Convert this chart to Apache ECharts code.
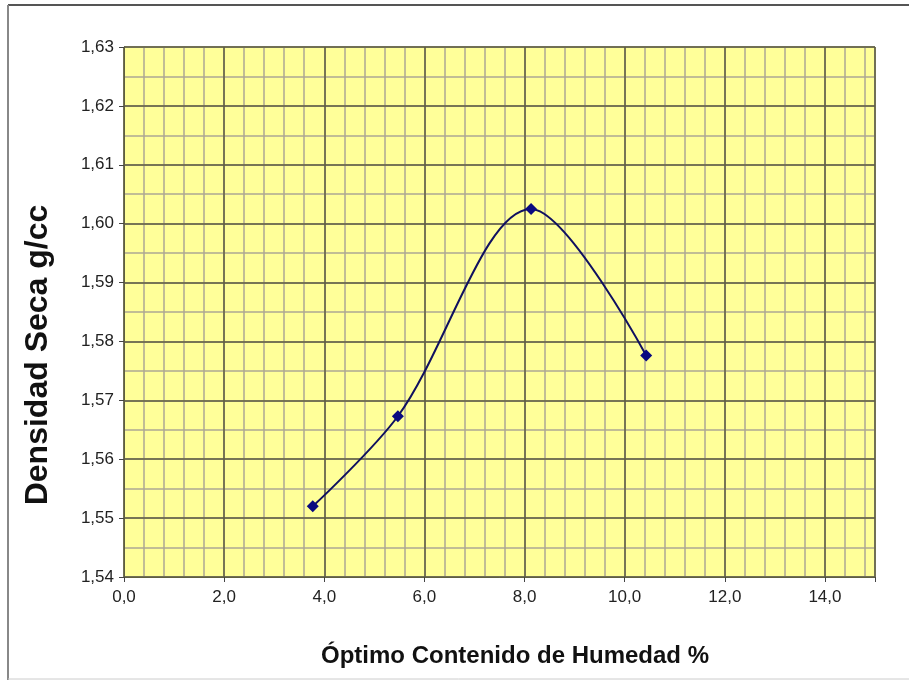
<!DOCTYPE html>
<html>
<head>
<meta charset="utf-8">
<script src="https://cdn.jsdelivr.net/npm/echarts@6/dist/echarts.min.js"></script>
<style>
    html, body { margin: 0; padding: 0; background: #fff; }
    #chart { width: 909px; height: 680px; }
</style>
</head>
<body>
<div id="chart"></div>
<script>
    // humedad (%) vs densidad seca (g/cc)
    var humedad = [3.77, 5.47, 8.13, 10.43];
    var densidad = [1.5520, 1.5673, 1.6025, 1.5776];

    var xTitle = 'Óptimo Contenido de Humedad %';
    var yTitle = 'Densidad Seca g/cc';

    var points = [];
    for (var i = 0; i < humedad.length; i++) {
        points.push([humedad[i], densidad[i]]);
    }

    var coma = function (v, d) {
        return v.toFixed(d).replace('.', ',');
    };

    var chart = echarts.init(document.getElementById('chart'));

    var option = {
        backgroundColor: '#fff',
        animation: false,
        grid: {
            left: 124, top: 47, right: 34, bottom: 103,
            show: true,
            backgroundColor: '#ffff99',
            borderColor: '#5e5e40',
            borderWidth: 1
        },
        graphic: [
            { type: 'line', shape: { x1: 8, y1: 5, x2: 909, y2: 5 }, style: { stroke: '#555', lineWidth: 2 } },
            { type: 'line', shape: { x1: 8, y1: 5, x2: 8, y2: 680 }, style: { stroke: '#888', lineWidth: 2 } },
            { type: 'line', shape: { x1: 8, y1: 679, x2: 909, y2: 679 }, style: { stroke: '#ccc', lineWidth: 1 } },
            {
                type: 'text', x: 515, y: 656,
                style: {
                    text: xTitle, align: 'center', verticalAlign: 'middle',
                    font: 'bold 24px "Liberation Sans"', fill: '#111'
                }
            },
            {
                type: 'text', x: 38, y: 355, rotation: Math.PI / 2,
                style: {
                    text: yTitle, align: 'center', verticalAlign: 'middle',
                    font: 'bold 32px "Liberation Sans"', fill: '#111'
                }
            }
        ],
        xAxis: [
            {
                type: 'value', min: 0, max: 15, interval: 2, z: 2,
                axisLine: { show: true, lineStyle: { color: '#5e5e40' } },
                axisTick: { show: true, length: 5, lineStyle: { color: '#444' } },
                axisLabel: {
                    fontFamily: 'Liberation Sans', fontSize: 17, color: '#222', margin: 12,
                    formatter: function (v) { return v > 14.5 ? '' : coma(v, 1); }
                },
                splitLine: { show: true, lineStyle: { color: '#5e5e40', width: 1.5 } }
            },
            {
                type: 'value', min: 0, max: 15, interval: 0.4, z: 1,
                axisLine: { show: false }, axisTick: { show: false }, axisLabel: { show: false },
                splitLine: { show: true, lineStyle: { color: '#aca795', width: 1.5 } }
            }
        ],
        yAxis: [
            {
                type: 'value', min: 1.54, max: 1.63, interval: 0.01, z: 2,
                axisLine: { show: true, lineStyle: { color: '#5e5e40' } },
                axisTick: { show: true, length: 5, lineStyle: { color: '#444' } },
                axisLabel: {
                    fontFamily: 'Liberation Sans', fontSize: 17, color: '#222', margin: 10,
                    formatter: function (v) { return coma(v, 2); }
                },
                splitLine: { show: true, lineStyle: { color: '#5e5e40', width: 1.5 } }
            },
            {
                type: 'value', min: 1.54, max: 1.63, interval: 0.005, z: 1,
                axisLine: { show: false }, axisTick: { show: false }, axisLabel: { show: false },
                splitLine: { show: true, lineStyle: { color: '#aca795', width: 1.5 } }
            }
        ],
        series: [
            {
                type: 'line',
                xAxisIndex: 0,
                yAxisIndex: 0,
                data: points,
                smooth: 0.33,
                symbol: 'diamond',
                symbolSize: 12,
                lineStyle: { color: '#101060', width: 2 },
                itemStyle: { color: '#0a0a80' },
                z: 5
            }
        ]
    };

    chart.setOption(option);
</script>
</body>
</html>
